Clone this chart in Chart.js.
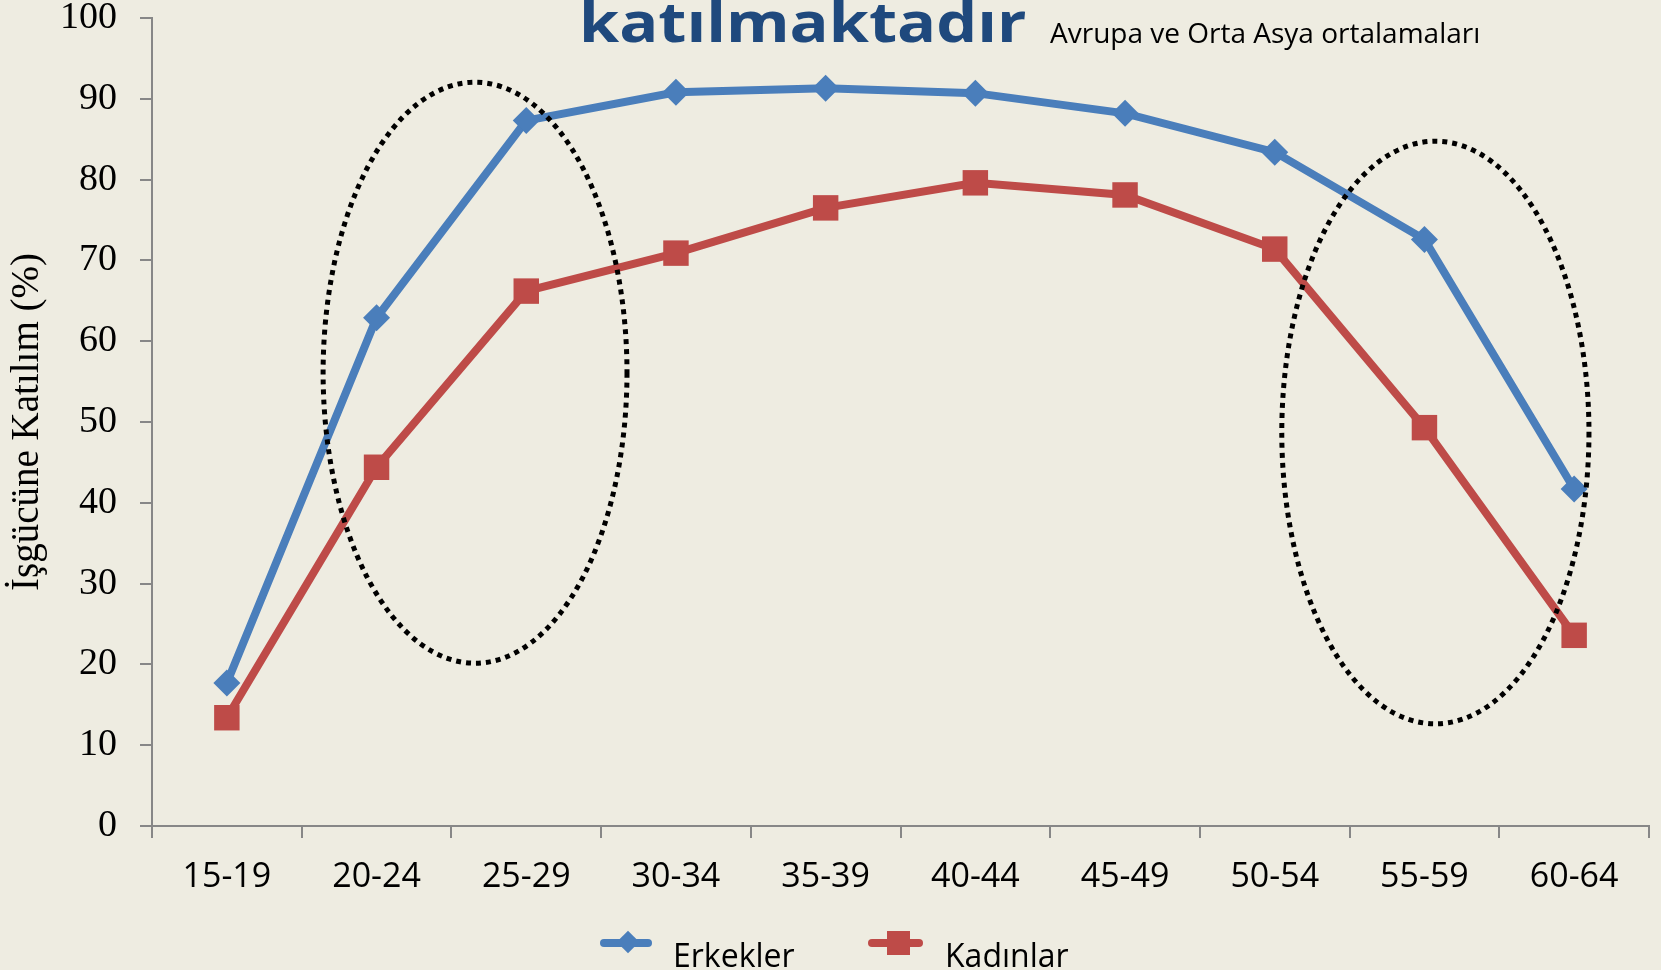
<!DOCTYPE html>
<html lang="tr">
<head>
<meta charset="utf-8">
<script src="https://cdn.jsdelivr.net/npm/chart.js@4/dist/chart.umd.min.js"></script>
<style>
  html, body { margin: 0; padding: 0; background: #EEECE1; overflow: hidden; }
  #wrap { position: relative; width: 1661px; height: 970px; overflow: hidden; background: #EEECE1; }
  canvas { position: absolute; left: 0; top: 0; }
  .txt { position: absolute; white-space: nowrap; line-height: 1; margin: 0; }
  #title { font-family: "Open Sans", sans-serif; font-weight: 700; font-size: 56px; color: #1F497D;
           left: 579px; top: -8px; transform: scaleX(1.157); transform-origin: 0 0; }
  #subtitle { font-family: "Open Sans", sans-serif; font-size: 28px; color: #000; left: 1050px; top: 18px; }
  .leg { font-family: "Open Sans", sans-serif; font-size: 32px; color: #000; top: 939px; }
  .legline { position: absolute; height: 8px; border-radius: 4px; }
  .legmark { position: absolute; }
</style>
</head>
<body>
<div id="wrap">
  <canvas id="c" width="1661" height="970"></canvas>
  <div class="txt" id="title">katılmaktadır</div>
  <div class="txt" id="subtitle">Avrupa ve Orta Asya ortalamaları</div>
  <div class="legline" style="left:600px; top:939px; width:52px; background:#4A7EBB;"></div>
  <div class="legmark" style="left:620px; top:934px; width:16px; height:16px; background:#4A7EBB; transform:rotate(45deg);"></div>
  <div class="txt leg" style="left:673px;">Erkekler</div>
  <div class="legline" style="left:868px; top:939px; width:55px; background:#BE4B48;"></div>
  <div class="legmark" style="left:887px; top:931px; width:23px; height:24px; background:#BE4B48;"></div>
  <div class="txt leg" style="left:945px;">Kadınlar</div>
</div>
<script>
// ---- data ----
const categories = ["15-19", "20-24", "25-29", "30-34", "35-39", "40-44", "45-49", "50-54", "55-59", "60-64"];
const erkekler = [17.7, 62.9, 87.3, 90.8, 91.3, 90.7, 88.2, 83.4, 72.6, 41.7];
const kadinlar = [13.4, 44.4, 66.2, 70.9, 76.5, 79.6, 78.1, 71.4, 49.3, 23.6];
const seriesNames = ["Erkekler", "Kadınlar"];
const yAxisTitle = "İşgücüne Katılım (%)";
// highlight ellipses in data units: [centre category index, centre value, half-width in categories, half-height in value]
const ellipseLeft = [1.658, 56.1, 1.015, 35.95];
const ellipseRight = [8.073, 48.7, 1.026, 36.05];

const BLUE = "#4A7EBB";
const RED = "#BE4B48";
const AXIS = "#878787";

const ellipsePlugin = {
  id: "ellipses",
  afterDatasetsDraw(chart) {
    const x = chart.scales.x, y = chart.scales.y, ctx = chart.ctx;
    [ellipseLeft, ellipseRight].forEach(e => {
      const cx = x.getPixelForValue(e[0]);
      const cy = y.getPixelForValue(e[1]);
      const rx = Math.abs(x.getPixelForValue(e[0] + e[2]) - cx);
      const ry = Math.abs(y.getPixelForValue(e[1] + e[3]) - cy);
      ctx.save();
      ctx.beginPath();
      ctx.ellipse(cx, cy, rx, ry, 0, 0, Math.PI * 2);
      ctx.lineWidth = 5;
      ctx.lineCap = "butt";
      ctx.setLineDash([5, 5]);
      ctx.strokeStyle = "#000";
      ctx.stroke();
      ctx.restore();
    });
  }
};

new Chart(document.getElementById("c"), {
  type: "line",
  data: {
    labels: categories,
    datasets: [
      { label: seriesNames[0], data: erkekler, borderColor: BLUE, backgroundColor: BLUE,
        borderWidth: 8, pointStyle: "rectRot", pointRadius: 13.5, pointBorderWidth: 0,
        pointBackgroundColor: BLUE, tension: 0, order: 1 },
      { label: seriesNames[1], data: kadinlar, borderColor: RED, backgroundColor: RED,
        borderWidth: 8, pointStyle: "rect", pointRadius: 18, pointBorderWidth: 0,
        pointBackgroundColor: RED, tension: 0, order: 2 }
    ]
  },
  options: {
    responsive: false,
    animation: false,
    devicePixelRatio: 1,
    layout: { autoPadding: false, padding: { left: 0, right: 12, top: 18, bottom: 0 } },
    plugins: { legend: { display: false }, tooltip: { enabled: false }, title: { display: false } },
    scales: {
      x: {
        type: "category",
        offset: true,
        grid: { display: true, offset: true, drawOnChartArea: false, drawTicks: true, tickLength: 12, color: AXIS, lineWidth: 2 },
        border: { display: true, color: AXIS, width: 2 },
        ticks: { color: "#000", padding: 19, maxRotation: 0, autoSkip: false,
                 font: { family: "'Open Sans', sans-serif", size: 34 } },
        afterFit(s) { s.height = 144; s.paddingLeft = 0; s.paddingRight = 0; }
      },
      y: {
        min: 0, max: 100,
        grid: { display: true, drawOnChartArea: false, drawTicks: true, tickLength: 12, color: AXIS, lineWidth: 2 },
        border: { display: true, color: AXIS, width: 2 },
        ticks: { stepSize: 10, color: "#000", padding: 23,
                 font: { family: "'Liberation Serif', serif", size: 38, lineHeight: 0.9 } },
        title: { display: true, text: yAxisTitle, color: "#000", padding: { top: 4, bottom: 0 },
                 font: { family: "'Liberation Serif', serif", size: 39 } },
        afterFit(s) { s.width = 152; s.paddingTop = 0; s.paddingBottom = 0; }
      }
    }
  },
  plugins: [ellipsePlugin]
});
</script>
</body>
</html>
